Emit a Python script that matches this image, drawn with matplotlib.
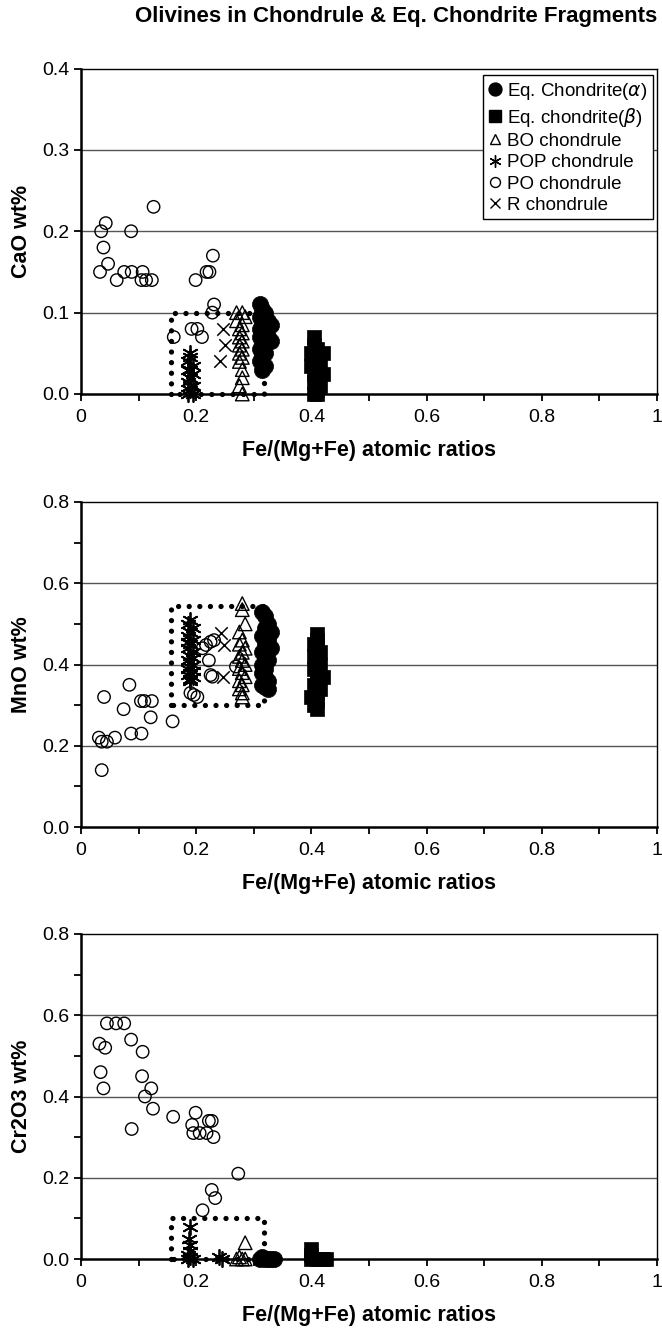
import matplotlib
matplotlib.use("Agg")
import matplotlib.pyplot as plt
from matplotlib.lines import Line2D
import numpy as np

plt.rcParams['font.family'] = ['Liberation Sans', 'DejaVu Sans']

# ---------------- data ----------------
# Panel 1: CaO
cao_alpha_x = [0.31, 0.315, 0.32, 0.31, 0.315, 0.325, 0.33, 0.31, 0.315, 0.32, 0.31, 0.325, 0.33, 0.315, 0.31, 0.32, 0.315, 0.31, 0.32, 0.315]
cao_alpha_y = [0.11, 0.105, 0.10, 0.095, 0.09, 0.09, 0.085, 0.08, 0.08, 0.075, 0.07, 0.07, 0.065, 0.06, 0.055, 0.05, 0.045, 0.04, 0.035, 0.03]
cao_beta_x = [0.405, 0.405, 0.41, 0.40, 0.42, 0.41, 0.405, 0.40, 0.415, 0.41, 0.405, 0.42, 0.41, 0.405, 0.415, 0.41, 0.405, 0.41]
cao_beta_y = [0.07, 0.06, 0.055, 0.05, 0.05, 0.045, 0.04, 0.035, 0.035, 0.03, 0.025, 0.025, 0.02, 0.015, 0.01, 0.005, 0.0, 0.0]
cao_bo_x = [0.27, 0.28, 0.285, 0.27, 0.28, 0.275, 0.28, 0.275, 0.28, 0.275, 0.28, 0.275, 0.28, 0.275, 0.28, 0.28, 0.275, 0.28]
cao_bo_y = [0.10, 0.10, 0.095, 0.09, 0.085, 0.08, 0.075, 0.07, 0.065, 0.06, 0.055, 0.05, 0.045, 0.04, 0.03, 0.02, 0.01, 0.0]
cao_pop_x = [0.19, 0.19, 0.185, 0.195, 0.19, 0.185, 0.195, 0.19, 0.185, 0.195, 0.19, 0.19, 0.185, 0.195]
cao_pop_y = [0.05, 0.045, 0.04, 0.035, 0.03, 0.03, 0.025, 0.02, 0.015, 0.01, 0.01, 0.005, 0.0, 0.0]
cao_po_x = [0.126, 0.043, 0.035, 0.087, 0.039, 0.047, 0.033, 0.062, 0.075, 0.088, 0.107, 0.105, 0.113, 0.123,
            0.199, 0.218, 0.223, 0.229, 0.231, 0.228, 0.192, 0.202, 0.21, 0.161]
cao_po_y = [0.23, 0.21, 0.20, 0.20, 0.18, 0.16, 0.15, 0.14, 0.15, 0.15, 0.15, 0.14, 0.14, 0.14,
            0.14, 0.15, 0.15, 0.17, 0.11, 0.10, 0.08, 0.08, 0.07, 0.07]
cao_r_x = [0.247, 0.25, 0.241]
cao_r_y = [0.08, 0.06, 0.04]

# Panel 2: MnO
mno_alpha_x = [0.315, 0.32, 0.325, 0.32, 0.33, 0.315, 0.325, 0.32, 0.33, 0.315, 0.32, 0.325, 0.315, 0.32, 0.315, 0.32, 0.325, 0.315, 0.32, 0.325]
mno_alpha_y = [0.53, 0.52, 0.50, 0.49, 0.48, 0.47, 0.46, 0.45, 0.44, 0.43, 0.42, 0.41, 0.40, 0.39, 0.38, 0.37, 0.36, 0.35, 0.345, 0.34]
mno_beta_x = [0.41, 0.41, 0.405, 0.41, 0.415, 0.405, 0.41, 0.415, 0.405, 0.41, 0.42, 0.41, 0.405, 0.415, 0.41, 0.40, 0.41, 0.405, 0.41]
mno_beta_y = [0.475, 0.46, 0.45, 0.44, 0.43, 0.42, 0.41, 0.40, 0.39, 0.38, 0.37, 0.36, 0.35, 0.34, 0.33, 0.32, 0.31, 0.30, 0.29]
mno_bo_x = [0.28, 0.28, 0.285, 0.275, 0.28, 0.275, 0.285, 0.28, 0.275, 0.28, 0.285, 0.275, 0.28, 0.285, 0.275, 0.28, 0.275, 0.28, 0.28]
mno_bo_y = [0.55, 0.535, 0.50, 0.48, 0.46, 0.45, 0.44, 0.43, 0.42, 0.41, 0.40, 0.39, 0.38, 0.37, 0.36, 0.35, 0.34, 0.33, 0.32]
mno_pop_x = [0.19, 0.185, 0.195, 0.19, 0.185, 0.195, 0.19, 0.185, 0.195, 0.19, 0.185, 0.195, 0.19, 0.185,
             0.195, 0.19, 0.185, 0.195, 0.19, 0.19, 0.185, 0.195]
mno_pop_y = [0.51, 0.50, 0.49, 0.48, 0.47, 0.46, 0.45, 0.44, 0.43, 0.42, 0.41, 0.40, 0.395, 0.39,
             0.385, 0.38, 0.375, 0.37, 0.365, 0.36, 0.455, 0.415]
mno_po_x = [0.04, 0.031, 0.036, 0.045, 0.059, 0.036, 0.074, 0.084, 0.087, 0.105, 0.104, 0.11, 0.123, 0.121,
            0.159, 0.19, 0.196, 0.202, 0.211, 0.217, 0.225, 0.231, 0.222, 0.228, 0.225, 0.269]
mno_po_y = [0.32, 0.22, 0.21, 0.21, 0.22, 0.14, 0.29, 0.35, 0.23, 0.23, 0.31, 0.31, 0.31, 0.27,
            0.26, 0.33, 0.325, 0.32, 0.44, 0.448, 0.456, 0.46, 0.41, 0.37, 0.374, 0.395]
mno_r_x = [0.243, 0.248, 0.246]
mno_r_y = [0.477, 0.448, 0.37]

# Panel 3: Cr2O3
cr_alpha_x = [0.31, 0.315, 0.32, 0.325, 0.33, 0.335]
cr_alpha_y = [0.0, 0.005, 0.0, 0.0, 0.0, 0.0]
cr_beta_x = [0.40, 0.40, 0.40, 0.41, 0.42, 0.425]
cr_beta_y = [0.025, 0.01, 0.0, 0.0, 0.0, 0.0]
cr_bo_x = [0.285, 0.275, 0.28, 0.285, 0.27]
cr_bo_y = [0.04, 0.005, 0.0, 0.0, 0.0]
cr_pop_x = [0.19, 0.188, 0.19, 0.19, 0.185, 0.19, 0.195, 0.185, 0.245, 0.24]
cr_pop_y = [0.08, 0.05, 0.035, 0.02, 0.01, 0.005, 0.0, 0.0, 0.0, 0.005]
cr_po_x = [0.045, 0.061, 0.075, 0.032, 0.042, 0.087, 0.107, 0.034, 0.039, 0.106, 0.122, 0.111, 0.125, 0.088,
           0.16, 0.193, 0.199, 0.195, 0.206, 0.218, 0.222, 0.227, 0.23, 0.273, 0.227, 0.233, 0.211]
cr_po_y = [0.58, 0.58, 0.58, 0.53, 0.52, 0.54, 0.51, 0.46, 0.42, 0.45, 0.42, 0.40, 0.37, 0.32,
           0.35, 0.33, 0.36, 0.31, 0.31, 0.31, 0.34, 0.34, 0.30, 0.21, 0.17, 0.15, 0.12]
cr_r_x = []
cr_r_y = []

# dotted boxes (x range, y range)
box_x = [0.157, 0.318]
cao_box_y = [0.0, 0.10]
mno_box_y = [0.30, 0.545]
cr_box_y = [0.0, 0.10]

title = "Olivines in Chondrule & Eq. Chondrite Fragments"
xlabel = "Fe/(Mg+Fe) atomic ratios"
labels = ["Eq. Chondrite($\\alpha$)", "Eq. chondrite($\\beta$)", "BO chondrule",
          "POP chondrule", "PO chondrule", "R chondrule"]
xticks = [0, 0.2, 0.4, 0.6, 0.8, 1.0]
xticklabels = ["0", "0.2", "0.4", "0.6", "0.8", "1"]

# ---------------- figure ----------------
fig = plt.figure(figsize=(6.62, 13.31), dpi=100)
W, H = 662, 1331
left = 81 / W
width = 576 / W
panel_px = [(68.5, 394), (502, 827), (934, 1259)]

AST = (6, 2, 0)
styles = [
    dict(marker='o', s=135, c='black', edgecolors='black', linewidths=0.5),
    dict(marker='s', s=115, c='black', edgecolors='black', linewidths=0.5),
    dict(marker='^', s=95, facecolors='none', edgecolors='black', linewidths=1.0),
    dict(marker=AST, s=120, c='black', linewidths=1.3),
    dict(marker='o', s=80, facecolors='none', edgecolors='black', linewidths=1.0),
    dict(marker='x', s=80, c='black', linewidths=1.1),
]

panels = [
    dict(ylabel="CaO wt%", ymax=0.4, major=0.1, minor=0.1,
         series=[(cao_alpha_x, cao_alpha_y), (cao_beta_x, cao_beta_y), (cao_bo_x, cao_bo_y),
                 (cao_pop_x, cao_pop_y), (cao_po_x, cao_po_y), (cao_r_x, cao_r_y)], box_y=cao_box_y),
    dict(ylabel="MnO wt%", ymax=0.8, major=0.2, minor=0.1,
         series=[(mno_alpha_x, mno_alpha_y), (mno_beta_x, mno_beta_y), (mno_bo_x, mno_bo_y),
                 (mno_pop_x, mno_pop_y), (mno_po_x, mno_po_y), (mno_r_x, mno_r_y)], box_y=mno_box_y),
    dict(ylabel="Cr2O3 wt%", ymax=0.8, major=0.2, minor=0.1,
         series=[(cr_alpha_x, cr_alpha_y), (cr_beta_x, cr_beta_y), (cr_bo_x, cr_bo_y),
                 (cr_pop_x, cr_pop_y), (cr_po_x, cr_po_y), (cr_r_x, cr_r_y)], box_y=cr_box_y),
]

axes = []
for (top, bot), p in zip(panel_px, panels):
    ax = fig.add_axes([left, 1 - bot / H, width, (bot - top) / H])
    axes.append(ax)
    ax.set_xlim(0, 1)
    ax.set_ylim(0, p['ymax'])
    majors = np.round(np.arange(0, p['ymax'] + 1e-9, p['major']), 2)
    minors = np.round(np.arange(0, p['ymax'] + 1e-9, p['minor']), 2)
    ax.set_yticks(majors)
    ax.set_yticklabels([f"{v:.1f}" for v in majors])
    ax.set_yticks(minors, minor=True)
    ax.set_xticks(xticks)
    ax.set_xticklabels(xticklabels)
    ax.set_xticks(np.round(np.arange(0, 1.0001, 0.1), 2), minor=True)
    ax.tick_params(axis='both', which='both', direction='out', length=5, width=1.3, labelsize=14, colors='black')
    ax.tick_params(axis='x', which='major', pad=6)
    for v in majors[1:-1]:
        ax.axhline(v, color='#555555', lw=1.0, zorder=0)
    for sp in ax.spines.values():
        sp.set_linewidth(1.0)
    ax.spines['left'].set_linewidth(1.8)
    ax.spines['bottom'].set_linewidth(1.8)
    # dotted box
    bx0, bx1 = box_x
    by0, by1 = p['box_y']
    ax.plot([bx0, bx0, bx1, bx1, bx0], [by0, by1, by1, by0, by0], color='black',
            lw=3.8, linestyle=(0, (0.01, 2.0)), dash_capstyle='round', solid_capstyle='round',
            clip_on=False, zorder=2)
    order = [4, 5, 3, 2, 0, 1]
    for i in order:
        xs, ys = p['series'][i]
        if len(xs):
            ax.scatter(xs, ys, clip_on=False, zorder=3, **styles[i])
    ax.set_ylabel(p['ylabel'], fontsize=15.5, fontweight='bold')
    ax.set_xlabel(xlabel, fontsize=15.5, fontweight='bold', labelpad=10)
    ax.yaxis.set_label_coords(-0.085, 0.5)

# legend in first panel
handles = []
for i, st in enumerate(styles):
    fc = st.get('c', None)
    if fc is None:
        fc = st.get('facecolors')
    mfc = 'black' if fc == 'black' else 'none'
    handles.append(Line2D([], [], linestyle='none', marker=st['marker'], markersize=np.sqrt(st['s']) * 0.8,
                          markerfacecolor=mfc, markeredgecolor='black', markeredgewidth=1.0))
leg = axes[0].legend(handles, labels, loc='upper right', bbox_to_anchor=(0.993, 0.98), borderaxespad=0,
                     fontsize=13.5, frameon=True, fancybox=False, edgecolor='black', framealpha=1,
                     handlelength=0.7, handletextpad=0.3, labelspacing=0.22, borderpad=0.3)
leg.get_frame().set_linewidth(1.0)

fig.text(657 / W, 1 - 6 / H, title, ha='right', va='top', fontsize=16, fontweight='bold')

fig.savefig("out.png", dpi=100)
